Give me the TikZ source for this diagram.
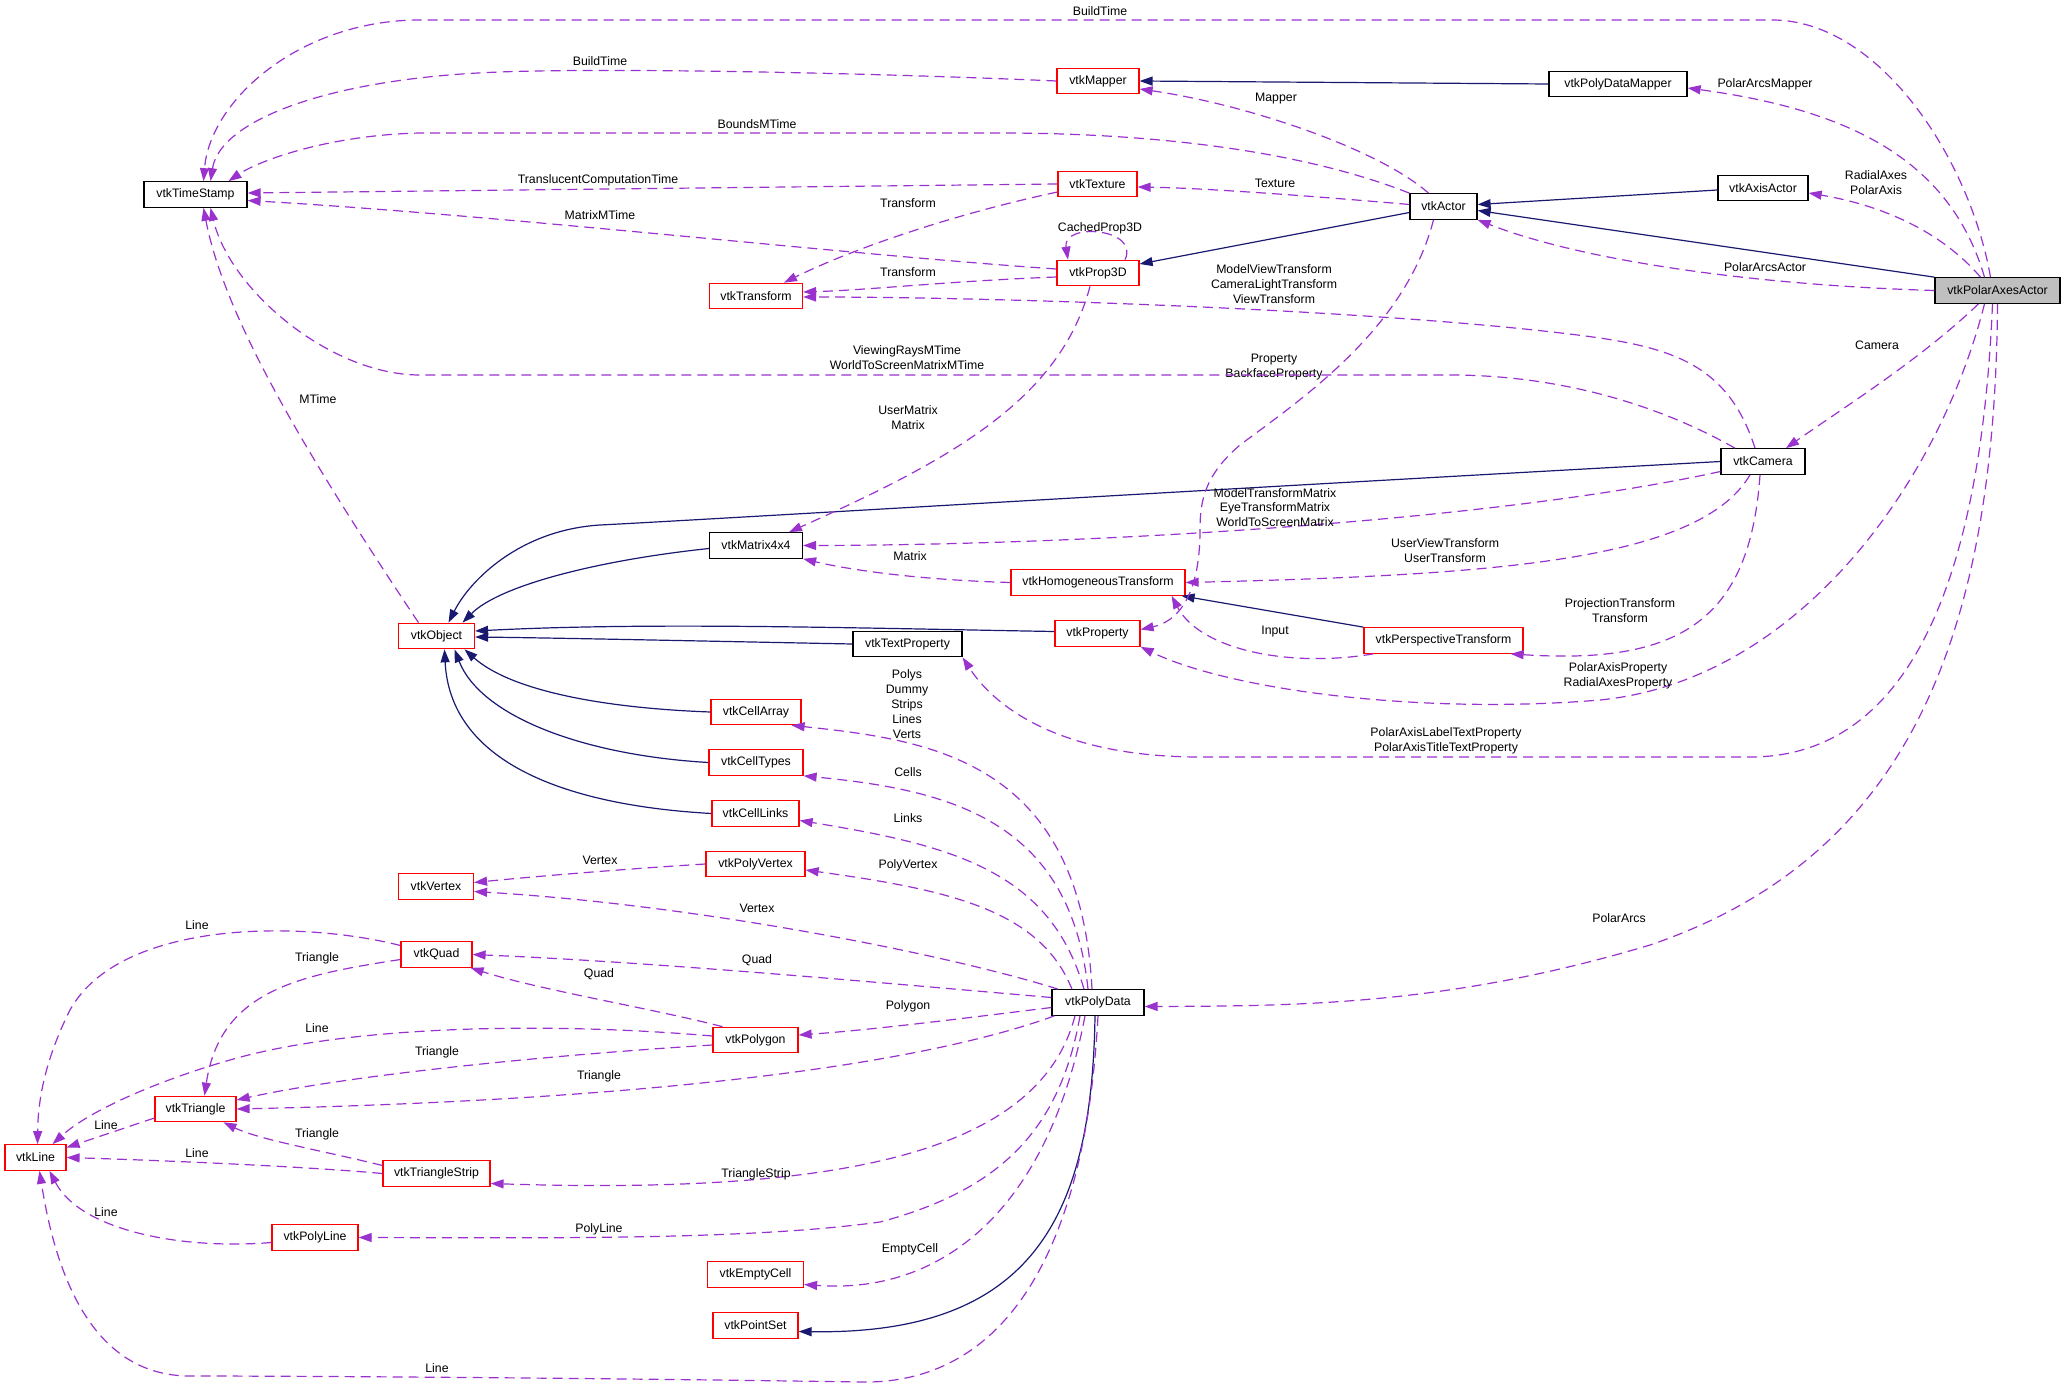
\documentclass[tikz,border=0pt]{standalone}
\usepackage{fontspec}
\setmainfont{Liberation Sans}
\usetikzlibrary{arrows.meta}

\definecolor{inhblue}{HTML}{191970}
\definecolor{usepurple}{HTML}{9A32CD}
\definecolor{selfgray}{HTML}{BFBFBF}

\tikzset{
  cls/.style={draw=black, line width=1.2pt, fill=white, inner sep=0pt,
    minimum height=25.5pt, font=\fontsize{12.3}{14.8}\selectfont},
  redcls/.style={cls, draw=red},
  lbl/.style={inner sep=0pt, align=center, font=\fontsize{12.3}{14.8}\selectfont},
  inh/.style={draw=inhblue, line width=1.2pt, -{Triangle[length=13pt,width=9pt]}},
  use/.style={draw=usepurple, line width=1.2pt, dash pattern=on 10pt off 6pt,
    -{Triangle[length=13pt,width=9pt]}},
}

\begin{document}
\begin{tikzpicture}[x=1pt, y=-1pt]
  % picture frame, pixel units with y pointing down
  \useasboundingbox (0,0) rectangle (2067,1388);

  % class boxes
  \node[cls, minimum width=103] (ts) at (195.5,194.5) {vtkTimeStamp};
  \node[redcls, minimum width=82] (mapper) at (1098,81) {vtkMapper};
  \node[cls, minimum width=138] (pdmapper) at (1618,84) {vtkPolyDataMapper};
  \node[redcls, minimum width=79] (texture) at (1097.5,184) {vtkTexture};
  \node[cls, minimum width=90] (axisactor) at (1763,188) {vtkAxisActor};
  \node[cls, minimum width=67] (actor) at (1443.5,206.5) {vtkActor};
  \node[redcls, minimum width=82] (prop3d) at (1098,273) {vtkProp3D};
  \node[redcls, minimum width=93] (transform) at (756,296) {vtkTransform};
  \node[cls, fill=selfgray, minimum width=125] (polar) at (1997.5,290.5) {vtkPolarAxesActor};
  \node[cls, minimum width=84] (camera) at (1763,461.5) {vtkCamera};
  \node[cls, minimum width=93] (matrix) at (756,545.5) {vtkMatrix4x4};
  \node[redcls, minimum width=174] (homog) at (1098,582.5) {vtkHomogeneousTransform};
  \node[redcls, minimum width=76] (object) at (436.5,636) {vtkObject};
  \node[redcls, minimum width=85] (property) at (1097.5,633.5) {vtkProperty};
  \node[cls, minimum width=109] (textprop) at (907.5,644) {vtkTextProperty};
  \node[redcls, minimum width=159] (persp) at (1443.5,640.5) {vtkPerspectiveTransform};
  \node[redcls, minimum width=90] (cellarray) at (756,712) {vtkCellArray};
  \node[redcls, minimum width=94] (celltypes) at (756,762.5) {vtkCellTypes};
  \node[redcls, minimum width=87] (celllinks) at (755.5,813.5) {vtkCellLinks};
  \node[redcls, minimum width=99] (polyvertex) at (755.5,864) {vtkPolyVertex};
  \node[redcls, minimum width=75] (vertex) at (436,886.5) {vtkVertex};
  \node[redcls, minimum width=71] (quad) at (436.5,954.5) {vtkQuad};
  \node[cls, minimum width=92] (polydata) at (1098,1002.5) {vtkPolyData};
  \node[redcls, minimum width=85] (polygon) at (755.5,1040) {vtkPolygon};
  \node[redcls, minimum width=81] (triangle) at (195.5,1109) {vtkTriangle};
  \node[redcls, minimum width=61] (line) at (35.5,1157.5) {vtkLine};
  \node[redcls, minimum width=107] (tristrip) at (436.5,1173.5) {vtkTriangleStrip};
  \node[redcls, minimum width=86] (polyline) at (315,1237.5) {vtkPolyLine};
  \node[redcls, minimum width=96] (emptycell) at (755.5,1274.5) {vtkEmptyCell};
  \node[redcls, minimum width=85] (pointset) at (755.5,1325.5) {vtkPointSet};

  % inheritance (solid)
  \draw[inh] (pdmapper.west) -- (mapper.east);
  \draw[inh] ([yshift=-2]axisactor.west) -- ([yshift=2]actor.east);
  \draw[inh] (polar.north west) -- ([yshift=-4]actor.east);
  \draw[inh] ([yshift=-6]actor.west) -- ([yshift=9]prop3d.east);
  \draw[inh] (camera.west) .. controls (1200,490) and (700,520) .. (600,525)
    .. controls (520,530) and (470,580) .. ([xshift=12]object.north);
  \draw[inh] ([yshift=-3]matrix.west) .. controls (600,560) and (500,585) .. ([xshift=26]object.north);
  \draw[inh] ([yshift=2]property.west) .. controls (850,628) and (650,622) .. ([yshift=5]object.east);
  \draw[inh] (textprop.west) .. controls (700,641) and (560,638) .. ([yshift=-1]object.east);
  \draw[inh] (cellarray.west) .. controls (600,708) and (510,690) .. ([xshift=28]object.south);
  \draw[inh] (celltypes.west) .. controls (580,755) and (480,715) .. ([xshift=18]object.south);
  \draw[inh] (celllinks.west) .. controls (560,805) and (450,760) .. ([xshift=8]object.south);
  \draw[inh] (persp.north west) -- ([xshift=-4]homog.south east);
  \draw[inh] ([xshift=-3]polydata.south) .. controls (1092,1220) and (1030,1335) .. ([yshift=-6]pointset.east);

  % members of vtkPolarAxesActor
  \draw[use] ([xshift=-7]polar.north) .. controls (1970,160) and (1880,20) .. (1772,20)
    -- (420,20) .. controls (300,20) and (210,100) .. ([xshift=8]ts.north);
  \draw[use] ([xshift=-13]polar.north) .. controls (1950,160) and (1850,110) .. ([yshift=-4]pdmapper.east);
  \draw[use] ([xshift=-17]polar.north) .. controls (1940,230) and (1880,205) .. ([yshift=-5]axisactor.east);
  \draw[use] (polar.west) .. controls (1750,285) and (1580,260) .. (actor.south east);
  \draw[use] ([xshift=-19]polar.south) .. controls (1920,360) and (1840,410) .. ([xshift=23]camera.north);
  \draw[use] ([xshift=-13]polar.south) .. controls (1940,480) and (1800,680) .. (1600,700)
    .. controls (1420,715) and (1230,690) .. (property.south east);
  \draw[use] ([xshift=-5]polar.south) .. controls (1980,600) and (1900,757) .. (1750,757)
    -- (1200,757) .. controls (1050,757) and (990,700) .. (textprop.south east);
  \draw[use] (polar.south) .. controls (1995,650) and (1900,860) .. (1650,945)
    .. controls (1450,1005) and (1300,1006) .. ([yshift=-4]polydata.east);
  \node[lbl] (lbuild) at (1100,11) {BuildTime};
  \node[lbl] (larcsmapper) at (1765,84) {PolarArcsMapper};
  \node[lbl] (laxes) at (1876,183) {RadialAxes\\PolarAxis};
  \node[lbl] (larcsactor) at (1765,267) {PolarArcsActor};
  \node[lbl] (lcamera) at (1877,345) {Camera};
  \node[lbl] (laxisprop) at (1618,675.5) {PolarAxisProperty\\RadialAxesProperty};
  \node[lbl] (ltextprop) at (1446,741) {PolarAxisLabelTextProperty\\PolarAxisTitleTextProperty};
  \node[lbl] (larcs) at (1619,918) {PolarArcs};

  % members of vtkActor
  \draw[use] ([xshift=-15]actor.north) .. controls (1380,150) and (1250,105) .. ([yshift=-8]mapper.east);
  \draw[use] (actor.north west) .. controls (1300,150) and (1150,133) .. (1000,133)
    -- (420,133) .. controls (330,135) and (260,160) .. ([xshift=33]ts.north);
  \draw[use] ([yshift=2]actor.west) .. controls (1300,195) and (1200,188) .. ([yshift=-3]texture.east);
  \draw[use] ([xshift=-10]actor.south) .. controls (1405,330) and (1300,400) .. (1240,445)
    .. controls (1205,475) and (1200,500) .. (1200,530)
    .. controls (1200,600) and (1175,622) .. ([yshift=4]property.east);
  \node[lbl] (lmapper) at (1276,99) {Mapper};
  \node[lbl] (lbounds) at (757,124) {BoundsMTime};
  \node[lbl] (ltexture) at (1275,183) {Texture};
  \node[lbl] (lproperty) at (1274,367) {Property\\BackfaceProperty};

  % members of vtkCamera
  \draw[use] ([xshift=-8]camera.north) .. controls (1730,370) and (1680,350) .. (1600,338)
    .. controls (1400,310) and (1000,297) .. ([yshift=-1]transform.east);
  \draw[use] ([xshift=-28]camera.north) .. controls (1650,400) and (1550,375) .. (1450,375)
    -- (420,375) .. controls (330,375) and (230,290) .. ([xshift=15]ts.south);
  \draw[use] ([yshift=-10]camera.west) .. controls (1500,520) and (1100,545) .. (matrix.east);
  \draw[use] ([xshift=-13]camera.south) .. controls (1700,560) and (1500,575) .. (homog.east);
  \draw[use] ([xshift=-3]camera.south) .. controls (1750,620) and (1680,665) .. ([xshift=-13]persp.south east);
  \node[lbl] (lviewtr) at (1274,284) {ModelViewTransform\\CameraLightTransform\\ViewTransform};
  \node[lbl] (lrays) at (907,358) {ViewingRaysMTime\\WorldToScreenMatrixMTime};
  \node[lbl] (lmatrices) at (1275,507.5) {ModelTransformMatrix\\EyeTransformMatrix\\WorldToScreenMatrix};
  \node[lbl] (lusertr) at (1445,551) {UserViewTransform\\UserTransform};
  \node[lbl] (lproj) at (1620,611) {ProjectionTransform\\Transform};

  % members of vtkProp3D, vtkTexture, vtkMapper, vtkObject
  \draw[use] ([xshift=27]prop3d.north) .. controls (1140,228) and (1062,222) .. ([xshift=-30]prop3d.north);
  \draw[use] ([yshift=4]prop3d.west) .. controls (850,255) and (500,215) .. ([yshift=-6]ts.east);
  \draw[use] ([yshift=-4]prop3d.west) .. controls (950,281) and (870,290) .. ([yshift=4]transform.east);
  \draw[use] ([xshift=-8]prop3d.south) .. controls (1060,400) and (950,460) .. ([xshift=33]matrix.north);
  \draw[use] (texture.west) -- ([yshift=1.5]ts.east);
  \draw[use] ([yshift=-8]texture.west) .. controls (950,215) and (850,250) .. ([xshift=28]transform.north);
  \draw[use] (mapper.west) .. controls (850,72) and (600,68) .. (500,72)
    .. controls (330,78) and (220,120) .. ([xshift=15]ts.north);
  \draw[use] ([xshift=-18]object.north) .. controls (310,460) and (225,320) .. ([xshift=8]ts.south);
  \node[lbl] (lcached) at (1100,228) {CachedProp3D};
  \node[lbl] (lmatrixm) at (600,215) {MatrixMTime};
  \node[lbl] (ltrprop) at (908,272) {Transform};
  \node[lbl] (lusermat) at (908,418) {UserMatrix\\Matrix};
  \node[lbl] (ltranslucent) at (598,180) {TranslucentComputationTime};
  \node[lbl] (ltrtex) at (908,203) {Transform};
  \node[lbl] (lbuildmap) at (600,61) {BuildTime};
  \node[lbl] (lmtime) at (318,399) {MTime};

  % transforms
  \draw[use] (homog.west) .. controls (920,580) and (850,570) .. (matrix.south east);
  \draw[use] ([xshift=10]persp.south west) .. controls (1290,668) and (1200,650) .. ([xshift=-14]homog.south east);
  \node[lbl] (lmatrix) at (910,556) {Matrix};
  \node[lbl] (linput) at (1275,632) {Input};

  % members of vtkPolyData
  \draw[use] ([xshift=-6]polydata.north) .. controls (1080,760) and (930,740) .. ([xshift=-10]cellarray.south east);
  \draw[use] ([xshift=-10]polydata.north) .. controls (1070,820) and (950,790) .. (celltypes.south east);
  \draw[use] ([xshift=-14]polydata.north) .. controls (1050,870) and (950,845) .. ([yshift=-7]celllinks.east);
  \draw[use] ([xshift=-26]polydata.north) .. controls (1040,910) and (950,890) .. ([yshift=-6]polyvertex.east);
  \draw[use] ([xshift=-40]polydata.north) .. controls (950,955) and (700,905) .. ([yshift=-5]vertex.east);
  \draw[use] ([yshift=5]polydata.west) .. controls (850,980) and (650,962) .. (quad.east);
  \draw[use] ([yshift=-5]polydata.west) .. controls (950,1020) and (870,1030) .. ([yshift=5]polygon.east);
  \draw[use] ([xshift=3]polydata.south west) .. controls (920,1065) and (650,1100) .. (triangle.east);
  \draw[use] ([xshift=-23]polydata.south) .. controls (1040,1150) and (850,1195) .. ([yshift=-10]tristrip.east);
  \draw[use] ([xshift=-18]polydata.south) .. controls (1060,1130) and (1000,1190) .. (880,1222)
    .. controls (750,1240) and (550,1238) .. (polyline.east);
  \draw[use] ([xshift=-13]polydata.south) .. controls (1050,1200) and (950,1295) .. ([yshift=-10]emptycell.east);
  \draw[use] (polydata.south) .. controls (1085,1260) and (1000,1385) .. (860,1382)
    .. controls (600,1378) and (300,1376) .. (190,1376)
    .. controls (90,1376) and (55,1270) .. ([xshift=4]line.south);
  \node[lbl] (lcells) at (907,704) {Polys\\Dummy\\Strips\\Lines\\Verts};
  \node[lbl] (lcelltypes) at (908,772) {Cells};
  \node[lbl] (llinks) at (908,818) {Links};
  \node[lbl] (lpolyvertex) at (908,865) {PolyVertex};
  \node[lbl] (lvertexpd) at (757,908) {Vertex};
  \node[lbl] (lquadpd) at (757,960) {Quad};
  \node[lbl] (lpolygon) at (908,1006) {Polygon};
  \node[lbl] (ltripd) at (599,1076) {Triangle};
  \node[lbl] (lstrip) at (756,1174) {TriangleStrip};
  \node[lbl] (lpolyline) at (599,1229) {PolyLine};
  \node[lbl] (lempty) at (910,1249) {EmptyCell};
  \node[lbl] (llinepd) at (437,1368) {Line};

  % cells using other cells
  \draw[use] (polyvertex.west) .. controls (640,868) and (550,875) .. ([yshift=4]vertex.east);
  \draw[use] ([xshift=-33]polygon.north) .. controls (650,1008) and (540,990) .. ([xshift=-2]quad.south east);
  \draw[use] ([yshift=4]polygon.west) .. controls (550,1022) and (350,1025) .. (230,1060)
    .. controls (160,1080) and (90,1110) .. ([xshift=17]line.north);
  \draw[use] ([yshift=-5]polygon.west) .. controls (550,1055) and (350,1075) .. ([yshift=9]triangle.east);
  \draw[use] ([yshift=9]quad.west) .. controls (300,920) and (120,920) .. (70,1010)
    .. controls (45,1060) and (38,1100) .. ([xshift=2]line.north);
  \draw[use] ([yshift=-5]quad.west) .. controls (300,975) and (220,990) .. ([xshift=9]triangle.north);
  \draw[use] ([yshift=-9]triangle.west) -- ([yshift=10]line.east);
  \draw[use] ([yshift=8]tristrip.west) .. controls (320,1150) and (260,1140) .. ([xshift=28]triangle.south);
  \draw[use] (tristrip.west) .. controls (300,1166) and (150,1160) .. (line.east);
  \draw[use] ([yshift=-5]polyline.west) .. controls (180,1250) and (80,1230) .. ([xshift=14]line.south);
  \node[lbl] (lvertexpv) at (600,860) {Vertex};
  \node[lbl] (lquadpg) at (599,974) {Quad};
  \node[lbl] (llinepg) at (317,1028) {Line};
  \node[lbl] (ltripg) at (437,1052) {Triangle};
  \node[lbl] (llineq) at (197,925) {Line};
  \node[lbl] (ltriq) at (317,958) {Triangle};
  \node[lbl] (llinetri) at (106,1125) {Line};
  \node[lbl] (ltristrip) at (317,1134) {Triangle};
  \node[lbl] (llinestrip) at (197,1153) {Line};
  \node[lbl] (llinepl) at (106,1212) {Line};
\end{tikzpicture}
\end{document}
